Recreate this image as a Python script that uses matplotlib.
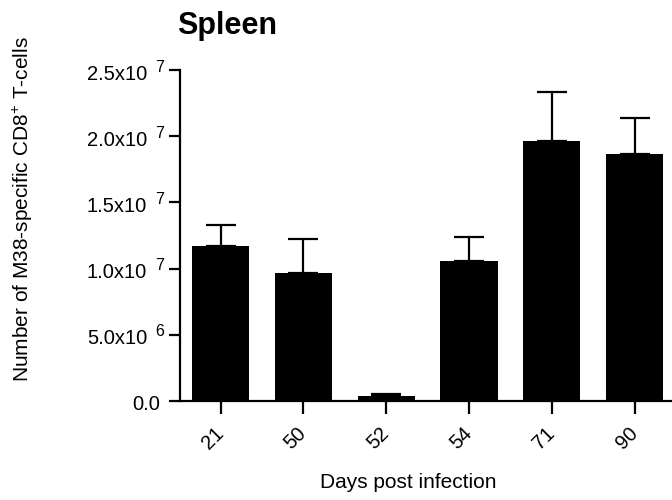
import matplotlib
matplotlib.use("Agg")
import matplotlib.pyplot as plt
import numpy as np

days = ["21", "50", "52", "54", "71", "90"]
means = [1.167e7, 0.965e7, 0.036e7, 1.056e7, 1.967e7, 1.869e7]
errors = [0.159e7, 0.262e7, 0.020e7, 0.181e7, 0.364e7, 0.270e7]
yticks = [0, 5e6, 1e7, 1.5e7, 2e7, 2.5e7]
ytick_mantissa = ["0.0", "5.0x10", "1.0x10", "1.5x10", "2.0x10", "2.5x10"]
ytick_exponent = ["", "6", "7", "7", "7", "7"]

plt.rcParams['font.family'] = ['Liberation Sans', 'DejaVu Sans']
plt.rcParams['mathtext.fontset'] = 'custom'
plt.rcParams['mathtext.rm'] = 'Liberation Sans'
plt.rcParams['mathtext.it'] = 'Liberation Sans'

W, H = 672, 500
PT = 0.72  # points per pixel at dpi 100
fig = plt.figure(figsize=(W/100, H/100), dpi=100)
ax = fig.add_axes([180/W, 1-401/H, 1-180/W, (401-70)/H])

x = np.arange(len(days))
ax.bar(x, means, width=0.69, color='black', linewidth=0, zorder=2)
ax.errorbar(x, means, yerr=[np.zeros(len(means)), errors], fmt='none',
            ecolor='black', elinewidth=1.6, capsize=10.8, capthick=1.6, zorder=3)

ax.set_ylim(0, 2.5e7)
ax.set_xlim(-0.49, 5.45)
ax.spines['top'].set_visible(False)
ax.spines['right'].set_visible(False)
ax.spines['left'].set_linewidth(1.6)
ax.spines['bottom'].set_linewidth(1.6)
ax.set_yticks(yticks)
ax.set_yticklabels([])
for v, m, e in zip(yticks, ytick_mantissa, ytick_exponent):
    if e:
        ax.annotate(m, xy=(0, v), xycoords=('axes fraction', 'data'),
                    xytext=(-33*PT, -9.5*PT), textcoords='offset points',
                    ha='right', va='baseline', fontsize=14.5, annotation_clip=False)
        ax.annotate(e, xy=(0, v), xycoords=('axes fraction', 'data'),
                    xytext=(-24.5*PT, -1.5*PT), textcoords='offset points',
                    ha='left', va='baseline', fontsize=11.5, annotation_clip=False)
    else:
        ax.annotate(m, xy=(0, v), xycoords=('axes fraction', 'data'),
                    xytext=(-20*PT, -9.5*PT), textcoords='offset points',
                    ha='right', va='baseline', fontsize=14.5, annotation_clip=False)
ax.set_xticks(x)
ax.set_xticklabels(days, fontsize=14.5, rotation=45, ha='right', va='center',
                   rotation_mode='anchor')
ax.tick_params(axis='y', length=8, width=1.6, pad=2)
ax.tick_params(axis='x', length=9, width=1.6, pad=12)

fig.text(227/W, 1-34/H, "Spleen", fontsize=22, fontweight='bold', ha='center', va='baseline')
fig.text(23/W, 1-209/H, r"Number of M38-specific CD8$^{+}$ T-cells", fontsize=15,
         rotation=90, ha='center', va='center')
fig.text(408/W, 1-488/H, "Days post infection", fontsize=15, ha='center', va='baseline')

fig.savefig("out.png", dpi=100)
